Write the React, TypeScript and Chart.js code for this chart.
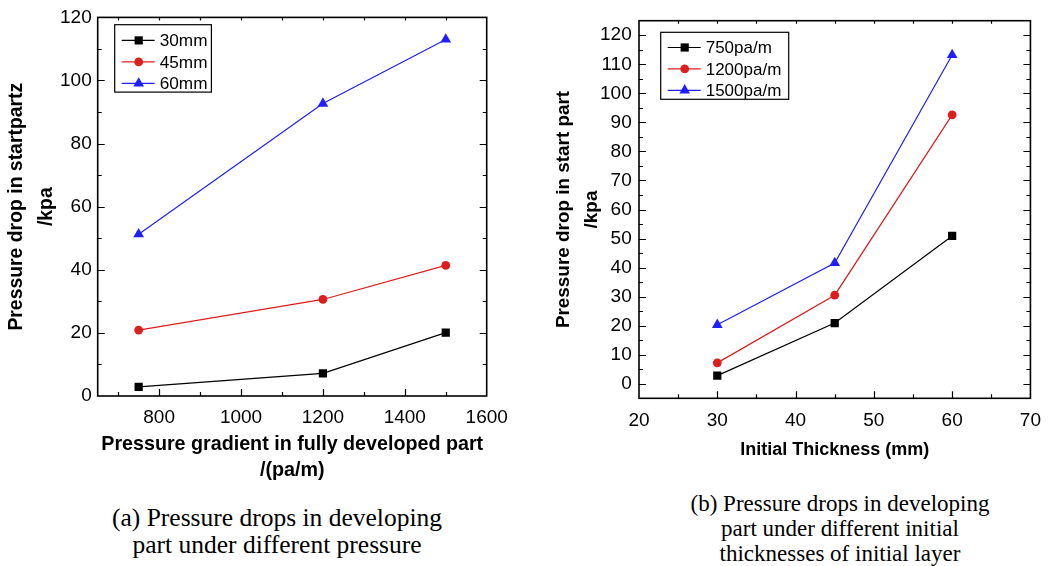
import React, { useEffect, useRef } from 'react';
import { Chart, registerables } from 'chart.js';
import { drawPoint } from 'chart.js/helpers';

Chart.register(...registerables);

// ---------- data (a) ----------
const gradients = [750, 1200, 1500];
const seriesA30 = [2.9, 7.2, 20.1];
const seriesA45 = [20.9, 30.6, 41.4];
const seriesA60 = [51.3, 92.7, 113];
const legendA = ['30mm', '45mm', '60mm'];
const xTicksA = [800, 1000, 1200, 1400, 1600];
const yTicksA = [0, 20, 40, 60, 80, 100, 120];

// ---------- data (b) ----------
const thicknesses = [30, 45, 60];
const seriesB750 = [2.8, 20.9, 50.9];
const seriesB1200 = [7.2, 30.5, 92.6];
const seriesB1500 = [20.3, 41.6, 113.2];
const legendB = ['750pa/m', '1200pa/m', '1500pa/m'];
const xTicksB = [20, 30, 40, 50, 60, 70];
const yTicksB = [0, 10, 20, 30, 40, 50, 60, 70, 80, 90, 100, 110, 120];

const BLACK = '#000000';
const RED = '#dc1e1e';
const BLUE = '#1f1fff';
const SANS = '"Liberation Sans", Arial, sans-serif';
const SERIF = '"Liberation Serif", "Times New Roman", serif';

const styles = [
  { color: BLACK, pointStyle: 'rect', radius: 5.8 },
  { color: RED, pointStyle: 'circle', radius: 4.4 },
  { color: BLUE, pointStyle: 'triangle', radius: 6.2 },
];

function makeDatasets(xs: number[], series: number[][], labels: string[]) {
  return series.map((s, i) => ({
    label: labels[i],
    data: xs.map((x, j) => ({ x, y: s[j] })),
    borderColor: styles[i].color,
    backgroundColor: styles[i].color,
    pointBackgroundColor: styles[i].color,
    pointBorderColor: styles[i].color,
    pointStyle: styles[i].pointStyle,
    pointRadius: styles[i].radius,
    pointBorderWidth: 0,
    borderWidth: 1.2,
    tension: 0,
  }));
}

const framePlugin = {
  id: 'frameTicks',
  afterDraw(chart: any, _args: any, opts: any) {
    const { ctx, chartArea: a, scales } = chart;
    const xs = scales.x;
    const ys = scales.y;
    ctx.save();
    ctx.strokeStyle = BLACK;
    ctx.lineWidth = 1.2;
    ctx.beginPath();
    const xMajor = opts.xMajor as number[];
    const yMajor = opts.yMajor as number[];
    for (let v = opts.xMinorStart; v <= xs.max + 1e-9; v += opts.xMinorStep) {
      const px = Math.round(xs.getPixelForValue(v)) + 0.5;
      if (px < a.left + 1 || px > a.right - 1) continue;
      const major = xMajor.some((m) => Math.abs(m - v) < 1e-6);
      const len = major ? 7 : 4;
      ctx.moveTo(px, a.bottom);
      ctx.lineTo(px, a.bottom - len);
      ctx.moveTo(px, a.top);
      ctx.lineTo(px, a.top + 3);
    }
    for (let v = opts.yMinorStart; v <= ys.max + 1e-9; v += opts.yMinorStep) {
      const py = Math.round(ys.getPixelForValue(v)) + 0.5;
      if (py < a.top + 1 || py > a.bottom - 1) continue;
      const major = yMajor.some((m) => Math.abs(m - v) < 1e-6);
      const len = major ? 7 : 4;
      ctx.moveTo(a.left, py);
      ctx.lineTo(a.left + len, py);
      ctx.moveTo(a.right, py);
      ctx.lineTo(a.right - len, py);
    }
    ctx.stroke();
    ctx.lineWidth = 1.6;
    ctx.strokeRect(a.left, a.top, a.right - a.left, a.bottom - a.top);

    // legend box
    const L = opts.legend;
    const bx = a.left + L.dx;
    const by = a.top + L.dy;
    ctx.lineWidth = 1.2;
    ctx.strokeRect(bx, by, L.w, L.h);
    chart.data.datasets.forEach((ds: any, i: number) => {
      const cy = by + L.firstRow + i * L.rowGap;
      ctx.strokeStyle = ds.borderColor;
      ctx.lineWidth = 1.2;
      ctx.beginPath();
      ctx.moveTo(bx + 7, cy);
      ctx.lineTo(bx + 40, cy);
      ctx.stroke();
      ctx.fillStyle = ds.pointBackgroundColor;
      ctx.strokeStyle = ds.pointBorderColor;
      drawPoint(ctx, { pointStyle: ds.pointStyle, radius: ds.pointRadius, rotation: 0, borderWidth: 0 } as any, bx + 24, cy);
      ctx.fillStyle = BLACK;
      ctx.font = `${L.fontSize}px ${SANS}`;
      ctx.textBaseline = 'middle';
      ctx.textAlign = 'left';
      ctx.fillText(ds.label, bx + 45, cy + 1);
    });
    ctx.restore();
  },
};

function ChartPanel(props: { config: any; width: number; height: number; left: number; top: number }) {
  const ref = useRef<HTMLCanvasElement | null>(null);
  useEffect(() => {
    if (!ref.current) return;
    const chart = new Chart(ref.current, props.config);
    return () => chart.destroy();
  }, []);
  return (
    <canvas
      ref={ref}
      width={props.width}
      height={props.height}
      style={{ position: 'absolute', left: props.left, top: props.top, width: props.width, height: props.height, display: 'block' }}
    />
  );
}

function axisFit(size: number, horizontal: boolean) {
  return (scale: any) => {
    if (horizontal) scale.height = size;
    else scale.width = size;
  };
}

const plainLabel = (v: any) => String(v);

const configA = {
  type: 'line',
  data: { datasets: makeDatasets(gradients, [seriesA30, seriesA45, seriesA60], legendA) },
  options: {
    responsive: false,
    animation: false,
    devicePixelRatio: 1,
    layout: { padding: { top: 16, right: 43.3, left: 0, bottom: 0 } },
    plugins: {
      legend: { display: false },
      tooltip: { enabled: false },
      frameTicks: {
        xMajor: xTicksA, yMajor: yTicksA,
        xMinorStart: 700, xMinorStep: 100,
        yMinorStart: 0, yMinorStep: 10,
        legend: { dx: 17, dy: 7.3, w: 96.7, h: 67.4, firstRow: 15.7, rowGap: 21.5, fontSize: 17.2 },
      },
    },
    scales: {
      x: {
        type: 'linear',
        min: 650,
        max: 1600,
        afterFit: axisFit(88, true),
        afterBuildTicks: (s: any) => { s.ticks = xTicksA.map((v) => ({ value: v })); },
        grid: { display: false, drawTicks: false },
        border: { display: false },
        ticks: { autoSkip: false, maxRotation: 0, padding: 10, color: BLACK, font: { family: SANS, size: 19 }, callback: plainLabel },
        title: {
          display: true,
          text: ['Pressure gradient in fully developed part', '/(pa/m)'],
          color: BLACK,
          font: { family: SANS, size: 19.7, weight: 'bold', lineHeight: '26.5px' },
          padding: { top: 0, bottom: 0 },
        },
      },
      y: {
        type: 'linear',
        min: 0,
        max: 120,
        afterFit: axisFit(97.7, false),
        afterBuildTicks: (s: any) => { s.ticks = yTicksA.map((v) => ({ value: v })); },
        grid: { display: false, drawTicks: false },
        border: { display: false },
        ticks: { autoSkip: false, padding: 6, color: BLACK, font: { family: SANS, size: 19 }, callback: plainLabel },
        title: {
          display: true,
          text: ['Pressure drop in startpartz', '/kpa'],
          color: BLACK,
          font: { family: SANS, size: 19.4, weight: 'bold', lineHeight: '30px' },
          padding: { top: 1.7, bottom: 0 },
        },
      },
    },
  },
  plugins: [framePlugin],
};

const configB = {
  type: 'line',
  data: { datasets: makeDatasets(thicknesses, [seriesB750, seriesB1200, seriesB1500], legendB) },
  options: {
    responsive: false,
    animation: false,
    devicePixelRatio: 1,
    layout: { padding: { top: 20.7, right: 14.7, left: 0, bottom: 0 } },
    plugins: {
      legend: { display: false },
      tooltip: { enabled: false },
      frameTicks: {
        xMajor: xTicksB, yMajor: yTicksB,
        xMinorStart: 20, xMinorStep: 5,
        yMinorStart: -5, yMinorStep: 5,
        legend: { dx: 21.7, dy: 11.6, w: 128, h: 67, firstRow: 15.2, rowGap: 21.4, fontSize: 17 },
      },
    },
    scales: {
      x: {
        type: 'linear',
        min: 20,
        max: 70,
        afterFit: axisFit(61.7, true),
        afterBuildTicks: (s: any) => { s.ticks = xTicksB.map((v) => ({ value: v })); },
        grid: { display: false, drawTicks: false },
        border: { display: false },
        ticks: { autoSkip: false, maxRotation: 0, padding: 11, color: BLACK, font: { family: SANS, size: 19 }, callback: plainLabel },
        title: {
          display: true,
          text: 'Initial Thickness (mm)',
          color: BLACK,
          font: { family: SANS, size: 18, weight: 'bold', lineHeight: '20px' },
          padding: { top: 0, bottom: 0 },
        },
      },
      y: {
        type: 'linear',
        min: -5,
        max: 125,
        afterFit: axisFit(99, false),
        afterBuildTicks: (s: any) => { s.ticks = yTicksB.map((v) => ({ value: v })); },
        grid: { display: false, drawTicks: false },
        border: { display: false },
        ticks: { autoSkip: false, padding: 7.3, color: BLACK, font: { family: SANS, size: 19 }, callback: plainLabel },
        title: {
          display: true,
          text: ['Pressure drop in start part', '/kpa'],
          color: BLACK,
          font: { family: SANS, size: 18.9, weight: 'bold', lineHeight: '28.4px' },
          padding: { top: 9.1, bottom: 0 },
        },
      },
    },
  },
  plugins: [framePlugin],
};

const captionA = ['(a) Pressure drops in developing', 'part under different pressure'];
const captionB = ['(b) Pressure drops in developing', 'part under different initial', 'thicknesses of initial layer'];

export default function App() {
  return (
    <div style={{ position: 'fixed', left: 0, top: 0, width: 1052, height: 566, background: '#ffffff', overflow: 'hidden' }}>
      <ChartPanel config={configA} width={530} height={484} left={0} top={0} />
      <ChartPanel config={configB} width={512} height={460} left={540} top={0} />
      <div
        style={{
          position: 'absolute', left: 77, top: 505, width: 400, textAlign: 'center',
          fontFamily: SERIF, fontSize: 25.5, lineHeight: '26.5px', color: '#000',
        }}
      >
        {captionA.map((t, i) => (<div key={i}>{t}</div>))}
      </div>
      <div
        style={{
          position: 'absolute', left: 640, top: 491.4, width: 400, textAlign: 'center',
          fontFamily: SERIF, fontSize: 23, lineHeight: '25px', color: '#000',
        }}
      >
        {captionB.map((t, i) => (<div key={i}>{t}</div>))}
      </div>
    </div>
  );
}
